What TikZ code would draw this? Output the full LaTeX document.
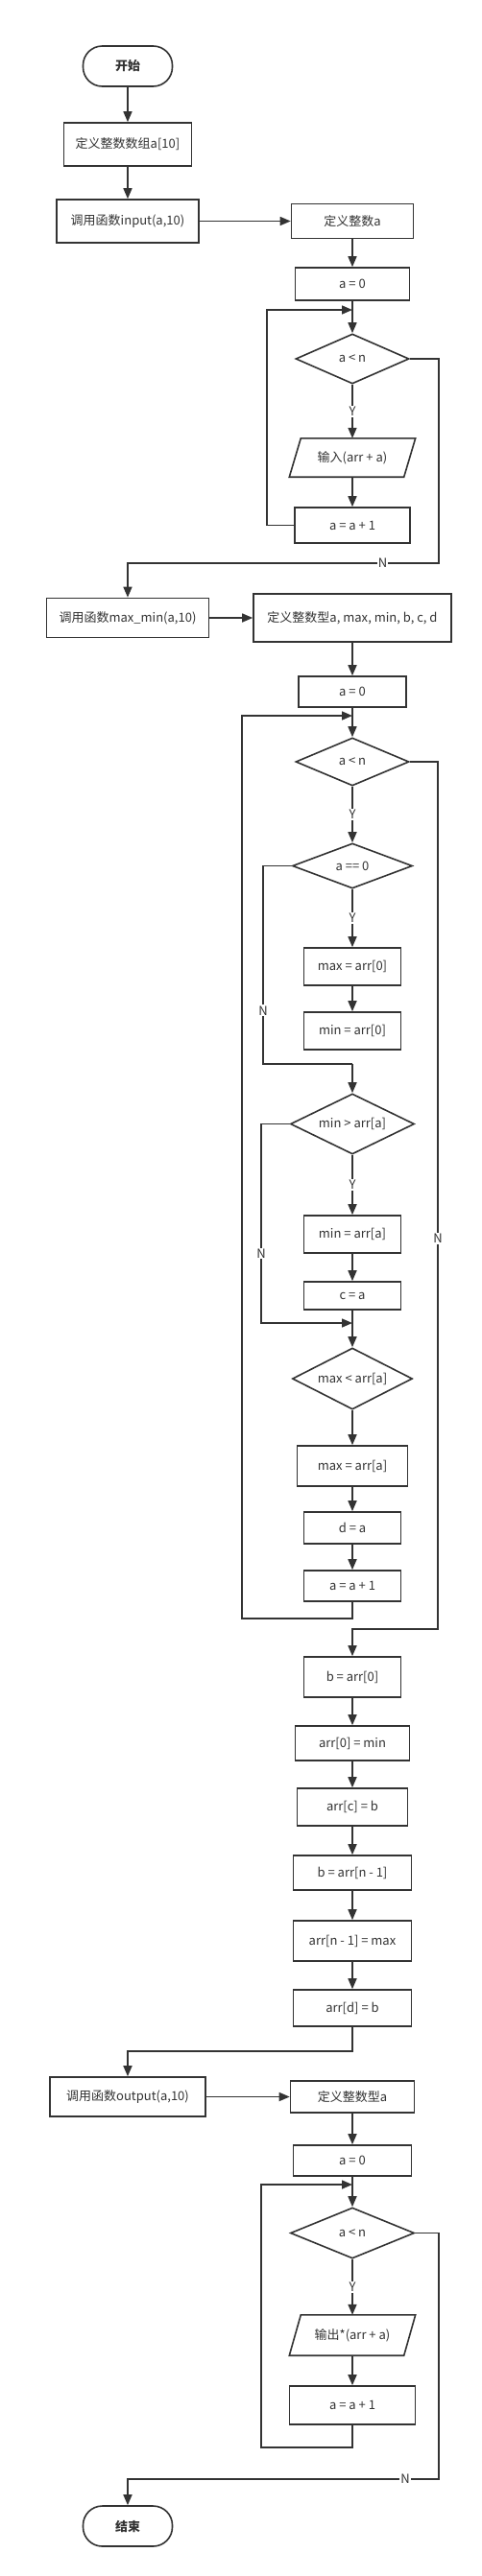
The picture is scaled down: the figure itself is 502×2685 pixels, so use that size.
\documentclass[tikz,border=0pt]{standalone}
\usepackage{fontspec}
\setmainfont{Noto Sans CJK SC}
\usetikzlibrary{shapes.geometric,arrows.meta,calc}
\definecolor{lc}{HTML}{333333}
\tikzset{
  base/.style={draw=lc, line width=1.6pt, text=lc, font=\fontsize{13}{15}\selectfont, inner sep=0pt},
  proc/.style={base, rectangle},
  term/.style={base, rectangle, rounded corners=20pt, font=\fontsize{13}{15}\selectfont\bfseries},
  dec/.style={base, diamond, aspect=2},
  iobox/.style={rectangle, inner sep=0pt, text=lc, font=\fontsize{13}{15}\selectfont},
  ln/.style={draw=lc, line width=1.6pt},
  arr/.style={ln, -{Triangle[length=11pt,width=9pt]}},
  lbl/.style={fill=white, inner sep=1pt, text=lc, font=\fontsize{13}{15}\selectfont}
}
\begin{document}
\begin{tikzpicture}[x=1pt,y=-1pt]
\fill[white] (0,0) rectangle (502,2685);
\useasboundingbox (0,0) rectangle (502,2685);

% column 1
\node[term, minimum width=93, minimum height=42] (start) at (133,69) {开始};
\node[proc, minimum width=133, minimum height=45] (arr10) at (133,150.5) {定义整数数组a[10]};
\node[proc, minimum width=148, minimum height=45] (call1) at (133,230.5) {调用函数input(a,10)};
\node[proc, minimum width=169, minimum height=41] (call2) at (133,644) {调用函数max\_min(a,10)};
\node[proc, minimum width=162, minimum height=41] (call3) at (133,2185.5) {调用函数output(a,10)};
\node[term, minimum width=93, minimum height=42] (end) at (133,2633) {结束};

% input function
\node[proc, minimum width=127, minimum height=36] (def1) at (367,230.5) {定义整数a};
\node[proc, minimum width=119, minimum height=34] (a01) at (367,296) {a = 0};
\node[dec, minimum width=118, minimum height=52] (d1) at (367,374) {a < n};
\node[iobox, minimum width=131, minimum height=40] (in1) at (367,477) {输入(arr + a)};
\node[proc, minimum width=120, minimum height=37] (inc1) at (367,547.5) {a = a + 1};

% max_min function
\node[proc, minimum width=206, minimum height=50] (def2) at (367,644) {定义整数型a, max, min, b, c, d};
\node[proc, minimum width=112, minimum height=32] (a02) at (367,721) {a = 0};
\node[dec, minimum width=118, minimum height=50] (d2) at (367,794) {a < n};
\node[dec, minimum width=125, minimum height=47] (d3) at (367,902.5) {a == 0};
\node[proc, minimum width=101, minimum height=39] (m1) at (367,1007.5) {max = arr[0]};
\node[proc, minimum width=101, minimum height=39] (m2) at (367,1074.5) {min = arr[0]};
\node[dec, minimum width=129, minimum height=63] (d4) at (367,1171.5) {min > arr[a]};
\node[proc, minimum width=101, minimum height=39] (m3) at (367,1286.5) {min = arr[a]};
\node[proc, minimum width=101, minimum height=29] (ca) at (367,1350.5) {c = a};
\node[dec, minimum width=125, minimum height=64] (d5) at (367,1437) {max < arr[a]};
\node[proc, minimum width=115, minimum height=42] (m4) at (367,1528) {max = arr[a]};
\node[proc, minimum width=101, minimum height=33] (da) at (367,1592.5) {d = a};
\node[proc, minimum width=101, minimum height=32] (inc2) at (367,1653) {a = a + 1};
\node[proc, minimum width=101, minimum height=42] (b0) at (367,1748) {b = arr[0]};
\node[proc, minimum width=119, minimum height=36] (s1) at (367,1817) {arr[0] = min};
\node[proc, minimum width=115, minimum height=39] (s2) at (367,1883.5) {arr[c] = b};
\node[proc, minimum width=123, minimum height=36] (s3) at (367,1952) {b = arr[n - 1]};
\node[proc, minimum width=123, minimum height=42] (s4) at (367,2023) {arr[n - 1] = max};
\node[proc, minimum width=123, minimum height=38] (s5) at (367,2093) {arr[d] = b};

% output function
\node[proc, minimum width=129, minimum height=33] (def3) at (367,2185.5) {定义整数型a};
\node[proc, minimum width=123, minimum height=32] (a03) at (367,2252) {a = 0};
\node[dec, minimum width=129, minimum height=53] (d6) at (367,2327.5) {a < n};
\node[iobox, minimum width=131, minimum height=42] (out) at (367,2434) {输出*(arr + a)};
\node[proc, minimum width=131, minimum height=40] (inc3) at (367,2507) {a = a + 1};

% parallelograms
\draw[ln] ($(in1.north west)+(12,0)$) -- (in1.north east) -- ($(in1.south east)+(-12,0)$) -- (in1.south west) -- cycle;
\draw[ln] ($(out.north west)+(12,0)$) -- (out.north east) -- ($(out.south east)+(-12,0)$) -- (out.south west) -- cycle;

% junction coordinates
\coordinate (j1) at (367,323);
\coordinate (j2) at (367,746);
\coordinate (j3) at (367,1109);
\coordinate (j4) at (367,1379);
\coordinate (j5) at (367,2277);

% column 1 flow
\draw[arr] (start) -- (arr10);
\draw[arr] (arr10) -- (call1);
\draw[arr] (call1.east) -- (def1.west);

% input loop
\draw[arr] (def1) -- (a01);
\draw[arr] (a01) -- (d1);
\draw[arr] (d1) -- node[lbl]{Y} (in1.north);
\draw[arr] (in1.south) -- (inc1);
\draw[arr] (inc1.west) -- (278,547.5) -- (278,323) -- (j1);
\draw[arr] (d1.east) -- (457,374) -- (457,587) -- node[lbl,pos=0.18]{N} (133,587) -- (call2.north);

% max_min
\draw[arr] (call2.east) -- (def2.west);
\draw[arr] (def2) -- (a02);
\draw[arr] (a02) -- (d2);
\draw[arr] (d2) -- node[lbl]{Y} (d3);
\draw[arr] (d3) -- node[lbl]{Y} (m1);
\draw[arr] (m1) -- (m2);
\draw[ln] (d3.west) -- (274,902.5) -- node[lbl,pos=0.73]{N} (274,1109) -- (j3);
\draw[arr] (j3) -- (d4.north);
\draw[arr] (d4) -- node[lbl]{Y} (m3);
\draw[arr] (m3) -- (ca);
\draw[arr] (ca) -- (d5);
\draw[arr] (d4.west) -- (272,1171.5) -- node[lbl,pos=0.65]{N} (272,1379) -- (j4);
\draw[arr] (d5) -- (m4);
\draw[arr] (m4) -- (da);
\draw[arr] (da) -- (inc2);
\draw[arr] (inc2.south) -- (367,1687) -- (252,1687) -- (252,746) -- (j2);
\draw[arr] (d2.east) -- (456,794) -- node[lbl,pos=0.55]{N} (456,1698) -- (367,1698) -- (b0.north);
\draw[arr] (b0) -- (s1);
\draw[arr] (s1) -- (s2);
\draw[arr] (s2) -- (s3);
\draw[arr] (s3) -- (s4);
\draw[arr] (s4) -- (s5);
\draw[arr] (s5.south) -- (367,2138) -- (133,2138) -- (call3.north);

% output
\draw[arr] (call3.east) -- (def3.west);
\draw[arr] (def3) -- (a03);
\draw[arr] (a03) -- (d6);
\draw[arr] (d6) -- node[lbl]{Y} (out.north);
\draw[arr] (out.south) -- (inc3);
\draw[arr] (inc3.south) -- (367,2551) -- (272,2551) -- (272,2277) -- (j5);
\draw[arr] (d6.east) -- (457,2327.5) -- (457,2584) -- node[lbl,pos=0.108]{N} (133,2584) -- (end.north);
\end{tikzpicture}
\end{document}
